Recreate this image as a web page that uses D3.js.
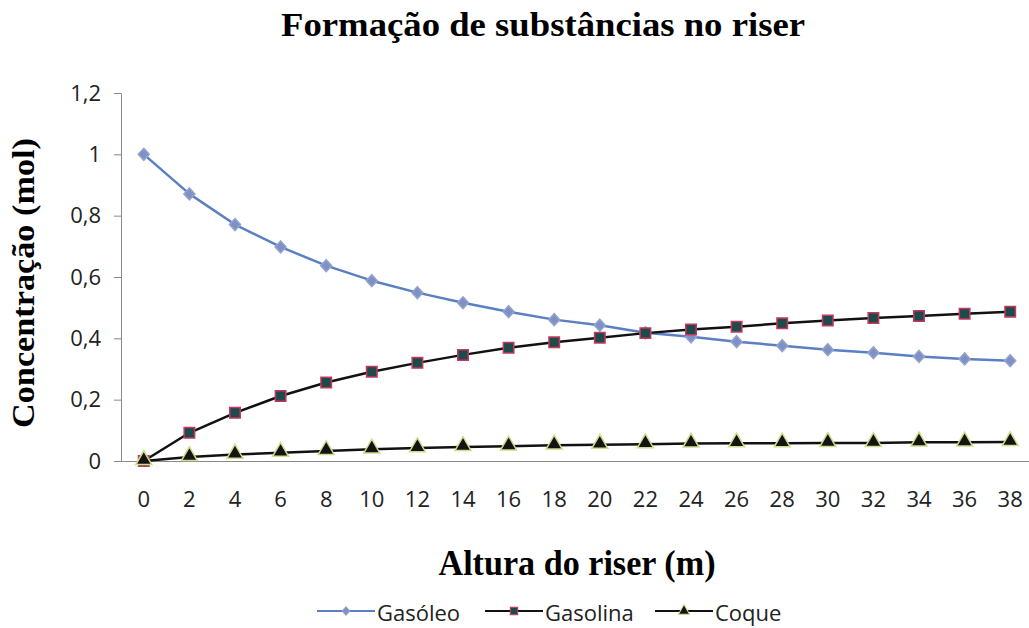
<!DOCTYPE html>
<html>
<head>
<meta charset="utf-8">
<script src="https://cdn.jsdelivr.net/npm/d3@7"></script>
<style>
  html, body { margin: 0; padding: 0; background: #fff; }
  svg { display: block; }
</style>
</head>
<body>
<svg id="chart" width="1029" height="628"></svg>
<script>
// Riser height (m)
const heights = ["0","2","4","6","8","10","12","14","16","18","20","22","24","26","28","30","32","34","36","38"];
// Concentrations (mol)
const gasoleo  = [1.000,0.871,0.771,0.698,0.637,0.588,0.549,0.516,0.487,0.461,0.443,0.418,0.405,0.389,0.376,0.363,0.353,0.341,0.333,0.327];
const gasolina = [0.000,0.092,0.157,0.212,0.256,0.291,0.320,0.346,0.369,0.387,0.402,0.417,0.429,0.438,0.449,0.458,0.466,0.473,0.480,0.487];
const coque    = [0.000,0.013,0.021,0.027,0.033,0.038,0.042,0.046,0.048,0.051,0.053,0.055,0.057,0.058,0.058,0.059,0.059,0.061,0.061,0.062];
const seriesNames = ["Gasóleo","Gasolina","Coque"];
const yTicks = [0,0.2,0.4,0.6,0.8,1,1.2];
const yTickLabels = ["0","0,2","0,4","0,6","0,8","1","1,2"];

const svg = d3.select("#chart");
const W = 1029, H = 628;
const plotLeft = 121, plotBottom = 461, plotTop = 93;
const band = 45.6;

const x = d3.scaleBand().domain(heights).range([plotLeft, plotLeft + band * heights.length]);
const y = d3.scaleLinear().domain([0, 1.2]).range([plotBottom, plotTop]);

const axisColor = "#8a8a8a";
const tickFont = "'Open Sans', sans-serif";

// Y axis
const yAxis = svg.append("g").attr("transform", `translate(${plotLeft},0)`)
  .call(d3.axisLeft(y).tickValues(yTicks).tickSize(7).tickPadding(13)
    .tickFormat((d, i) => yTickLabels[i]));
yAxis.select(".domain").attr("stroke", axisColor);
yAxis.selectAll(".tick line").attr("stroke", axisColor);
yAxis.selectAll("text").attr("font-family", tickFont).attr("font-size", 22).attr("fill", "#222");

// X axis
const xAxis = svg.append("g").attr("transform", `translate(0,${plotBottom})`)
  .call(d3.axisBottom(x).tickSize(0).tickPadding(30));
xAxis.select(".domain").attr("stroke", axisColor).attr("d", `M${plotLeft},0.5H${W}`);
xAxis.selectAll("text").attr("font-family", tickFont).attr("font-size", 22).attr("fill", "#222");

// Series styles
const styles = [
  { values: gasoleo,  line: "#5b7fc3", width: 2.5, shape: "diamond", fill: "#7f90c4", stroke: "#93a3d0" },
  { values: gasolina, line: "#111111", width: 2.5, shape: "square",  fill: "#1d4a4c", stroke: "#c8375a" },
  { values: coque,    line: "#111111", width: 2.5, shape: "triangle", fill: "#141414", stroke: "#cfdc8c" }
];

const xc = d => x(d) + x.bandwidth() / 2;
const lineGen = d3.line().x((d, i) => xc(heights[i])).y(d => y(d));

function markerPath(shape) {
  if (shape === "diamond") return "M0,-6L5.5,0L0,6L-5.5,0Z";
  if (shape === "square") return d3.symbol(d3.symbolSquare, 110)();
  return d3.symbol(d3.symbolTriangle, 110)();
}

styles.forEach(s => {
  svg.append("path").datum(s.values)
    .attr("fill", "none").attr("stroke", s.line).attr("stroke-width", s.width)
    .attr("stroke-linejoin", "round").attr("d", lineGen);
});
styles.forEach(s => {
  svg.append("g").selectAll("path").data(s.values).join("path")
    .attr("transform", (d, i) => `translate(${xc(heights[i])},${y(d) - (s.shape === "triangle" ? 1 : 0)})`)
    .attr("d", markerPath(s.shape))
    .attr("fill", s.fill).attr("stroke", s.stroke).attr("stroke-width", 1.5);
});

// Titles
const serif = "'Liberation Serif', 'Times New Roman', serif";
svg.append("text").attr("x", 543).attr("y", 36).attr("text-anchor", "middle")
  .attr("font-family", serif).attr("font-weight", "bold").attr("font-size", 34)
  .attr("textLength", 524).attr("lengthAdjust", "spacingAndGlyphs")
  .text("Formação de substâncias no riser");

svg.append("text").attr("transform", "translate(34,283) rotate(-90)").attr("text-anchor", "middle")
  .attr("font-family", serif).attr("font-weight", "bold").attr("font-size", 31)
  .attr("textLength", 290).attr("lengthAdjust", "spacingAndGlyphs")
  .text("Concentração (mol)");

svg.append("text").attr("x", 577).attr("y", 575).attr("text-anchor", "middle")
  .attr("font-family", serif).attr("font-weight", "bold").attr("font-size", 35)
  .attr("textLength", 277).attr("lengthAdjust", "spacingAndGlyphs")
  .text("Altura do riser (m)");

// Legend
const legendX = [317, 485, 655];
const legend = svg.append("g");
styles.forEach((s, i) => {
  const g = legend.append("g").attr("transform", `translate(${legendX[i]},611)`);
  g.append("line").attr("x1", 0).attr("x2", 58).attr("y1", 0).attr("y2", 0)
    .attr("stroke", s.line).attr("stroke-width", 2);
  g.append("path").attr("transform", `translate(29,0) scale(0.7)`).attr("d", markerPath(s.shape))
    .attr("fill", s.fill).attr("stroke", s.stroke).attr("stroke-width", 1.5);
  g.append("text").attr("x", 60).attr("y", 10).attr("font-family", tickFont).attr("font-size", 22)
    .attr("fill", "#222").text(seriesNames[i]);
});
</script>
</body>
</html>
